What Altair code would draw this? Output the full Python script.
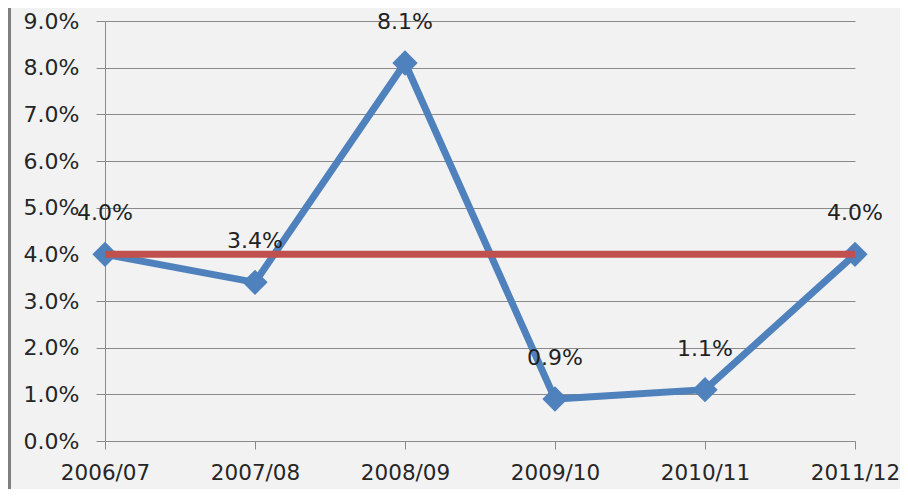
import altair as alt
import pandas as pd

years = ["2006/07", "2007/08", "2008/09", "2009/10", "2010/11", "2011/12"]
growth = [0.040, 0.034, 0.081, 0.009, 0.011, 0.040]
target = [0.040, 0.040, 0.040, 0.040, 0.040, 0.040]
y_ticks = [0.00, 0.01, 0.02, 0.03, 0.04, 0.05, 0.06, 0.07, 0.08, 0.09]

df = pd.DataFrame({"year": years, "growth": growth, "target": target})

FONT = "DejaVu Sans"
BLUE = "#4f81bd"
RED = "#c0504d"
GREY = "#8a8a8a"

x_enc = alt.X(
    "year:O",
    sort=years,
    scale=alt.Scale(type="point", padding=0),
    axis=alt.Axis(
        title=None, labelAngle=0, grid=False, ticks=True, tickSize=8,
        labelPadding=13, domainColor=GREY, tickColor=GREY,
    ),
)
y_scale = alt.Scale(domain=[0, 0.09], nice=False, zero=True)

base = alt.Chart(df)

grid_axis = alt.Axis(
    title=None, format=".1%", values=y_ticks, grid=True, gridColor=GREY,
    tickSize=9, tickColor=GREY, domainColor=GREY, labelPadding=17,
)

blue_line = base.mark_line(color=BLUE, strokeWidth=7).encode(
    x=x_enc, y=alt.Y("growth:Q", scale=y_scale, axis=grid_axis)
)
blue_pts = base.mark_point(
    shape="diamond", filled=True, size=640, color=BLUE, opacity=1
).encode(x=x_enc, y=alt.Y("growth:Q", scale=y_scale))
red_line = base.mark_line(color=RED, strokeWidth=7).encode(
    x=x_enc, y=alt.Y("target:Q", scale=y_scale)
)
labels = base.mark_text(
    dy=-41, fontSize=22, font=FONT, color="#222222"
).encode(
    x=x_enc, y=alt.Y("growth:Q", scale=y_scale),
    text=alt.Text("growth:Q", format=".1%"),
)
border = alt.Chart(df).mark_rule(color="#7f7f7f", strokeWidth=3).encode(
    x=alt.value(-96), y=alt.value(-13), y2=alt.value(470)
)

chart = (
    alt.layer(border, blue_line, blue_pts, red_line, labels)
    .properties(
        width=750, height=420,
        autosize=alt.AutoSizeParams(type="none"),
        padding={"left": 97, "top": 13, "right": 45, "bottom": 48},
        background="#f2f2f2",
    )
    .configure_view(stroke=None)
    .configure_axis(
        labelFont=FONT, labelFontSize=22, labelColor="#262626",
    )
    .configure_axisX(labelFontSize=21.5)
)

chart.save("out.html", embed_options={"renderer": "svg", "actions": False})
